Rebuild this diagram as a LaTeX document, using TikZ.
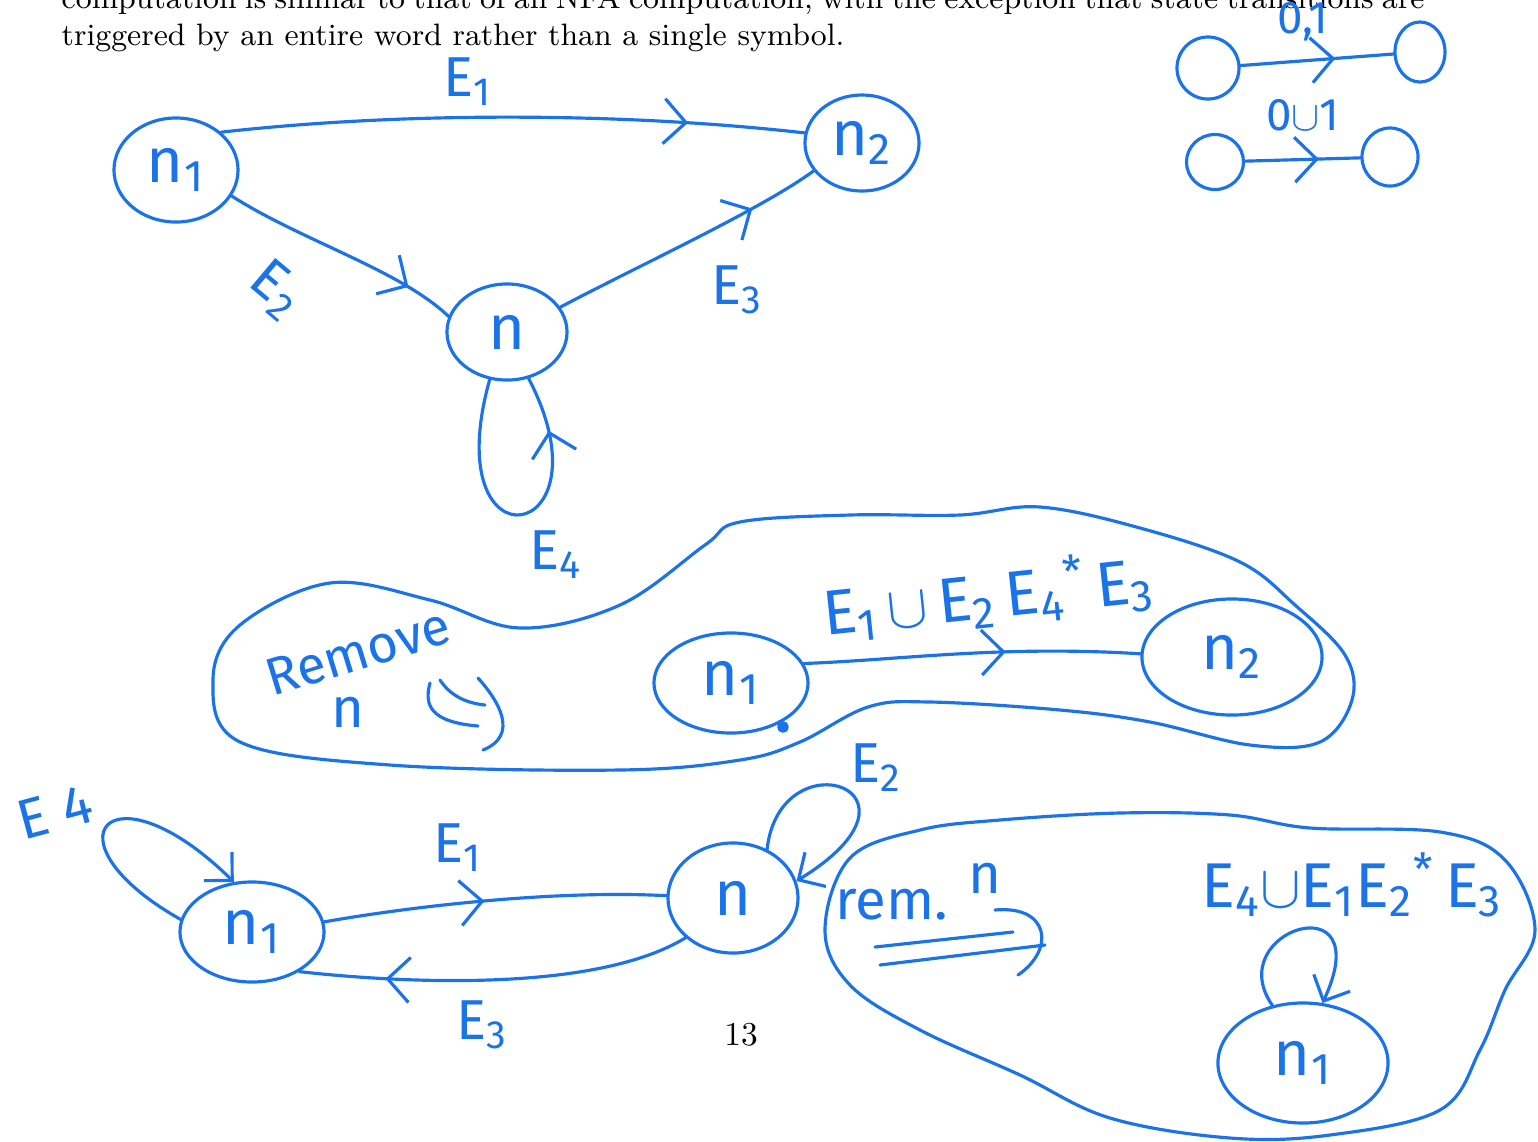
\documentclass[tikz,border=0pt]{standalone}
\usepackage{fontspec}
\newfontfamily\hand{Fira Sans}
\usetikzlibrary{arrows.meta,positioning,shapes.geometric,decorations.markings}
\definecolor{ink}{RGB}{26,115,232}

\begin{document}
\begin{tikzpicture}[
    x=0.01cm, y=-0.01cm,
    ink/.style={draw, color=ink, line width=0.9pt, line cap=round, line join=round},
    state/.style={ellipse, ink, inner sep=0pt, font=\hand\fontsize{18}{20}\selectfont},
    lbl/.style={text=ink, inner sep=1pt, font=\hand\fontsize{16}{18}\selectfont},
    small/.style={text=ink, inner sep=1pt, font=\hand\fontsize{13}{15}\selectfont},
    midarrow/.style={postaction={decorate, decoration={markings,
        mark=at position #1 with {\arrow{Straight Barb[length=2.2mm, width=4.5mm]}}}}},
    tip/.style={-{Straight Barb[length=2mm, width=4mm]}},
    page/.style={inner sep=0pt, font=\fontsize{8.8}{10.5}\selectfont}
]
\clip (0,0) rectangle (1538,1141);

% Page text
\node[page, anchor=base west] (line1) at (61,8) {\makebox[13.62cm][s]{computation is similar to that of an NFA computation, with the exception that state transitions are}};
\node[page, anchor=base west] (line2) at (61,45) {triggered by an entire word rather than a single symbol.};
\node[page, anchor=base, font=\fontsize{9.5}{11}\selectfont] (pnum) at (741,1045) {13};

% Nodes (first graph)
\node[state, minimum width=1.24cm, minimum height=1.04cm] (n1) at (176,170) {n\textsubscript{1}};
\node[state, minimum width=1.14cm, minimum height=0.96cm] (n2) at (862,143) {n\textsubscript{2}};
\node[state, minimum width=1.2cm, minimum height=0.96cm] (n) at (507,332) {n};

% Edges
\draw[ink, midarrow=0.8] (n1.40) .. controls (400,112) and (620,112) .. (n2.170);
\draw[ink, midarrow=0.8] (n1.-25) .. controls (300,240) and (400,270) .. (n.165);
\draw[ink, midarrow=0.75] (n.25) .. controls (640,265) and (760,210) .. (n2.-150);
\draw[ink, midarrow=0.82] (n.-110) .. controls (435,575) and (615,545) .. (n.-65);

\node[lbl] (e1) at (468,82) {E\textsubscript{1}};
\node[lbl, rotate=-40] (e2) at (276,290) {E\textsubscript{2}};
\node[lbl] (e3) at (737,290) {E\textsubscript{3}};
\node[lbl] (e4) at (556,555) {E\textsubscript{4}};

% Small examples, top right
\node[state, minimum width=0.62cm, minimum height=0.62cm] (a) at (1208,68) {};
\node[state, minimum width=0.5cm, minimum height=0.6cm] (b) at (1420,52) {};
\node[state, minimum width=0.57cm, minimum height=0.55cm] (c) at (1215,162) {};
\node[state, minimum width=0.56cm, minimum height=0.58cm] (d) at (1390,157) {};
\draw[ink, midarrow=0.62] (a) -- (b);
\draw[ink, midarrow=0.64] (c) -- (d);
\node[small] (ab) at (1303,22) {0,1};
\node[small] (cd) at (1303,115) {0$\cup$1};

% Remove n: middle blob
\draw[ink] plot[smooth cycle, tension=0.6] coordinates {
    (330,583) (430,600) (520,628) (620,605) (705,545) (740,522) (850,515)
    (960,515) (1040,507) (1140,528) (1240,562) (1295,605) (1345,655)
    (1352,700) (1320,742) (1250,745) (1150,722) (1060,710) (930,702)
    (868,707) (800,742) (740,760) (620,770) (390,765) (240,742) (213,680)
    (240,625)};
\node[lbl, rotate=17, font=\hand\fontsize{15}{17}\selectfont] (rm) at (358,652) {Remove};
\node[lbl] (rmn) at (348,712) {n};
\draw[ink] (430,683) .. controls (424,705) and (430,722) .. (478,726);
\draw[ink] (440,680) .. controls (450,695) and (465,703) .. (485,705);
\draw[ink] (478,678) .. controls (498,700) and (520,735) .. (483,750);

\node[state, minimum width=1.54cm, minimum height=1.0cm] (m1) at (731,683) {n\textsubscript{1}};
\node[state, minimum width=1.8cm, minimum height=1.16cm] (m2) at (1232,657) {n\textsubscript{2}};
\draw[ink, midarrow=0.6] (m1.15) .. controls (900,660) and (1000,645) .. (m2.178);
\node[lbl, rotate=6, font=\hand\fontsize{18}{20}\selectfont] (mlab) at (988,596) {E\textsubscript{1}$\,\cup\,$E\textsubscript{2}\,E\textsubscript{4}\textsuperscript{*}\,E\textsubscript{3}};
\fill[ink] (783,727) circle (1.2pt);

% Bottom graph
\node[state, minimum width=1.44cm, minimum height=1.0cm] (b1) at (252,932) {n\textsubscript{1}};
\node[state, minimum width=1.3cm, minimum height=1.1cm] (bn) at (733,898) {n};
\draw[ink, midarrow=0.47] (b1.8) .. controls (420,905) and (560,890) .. (bn.178);
\draw[ink, midarrow=0.78] (bn.-140) .. controls (600,990) and (420,985) .. (b1.-40);
\draw[ink, tip] (b1.170) .. controls (40,840) and (110,760) .. (b1.110);
\draw[ink, tip] (bn.55) .. controls (780,735) and (945,790) .. (bn.15);
\node[lbl, rotate=15] (be4) at (55,812) {E\;4};
\node[lbl] (be1) at (458,848) {E\textsubscript{1}};
\node[lbl] (be3) at (482,1025) {E\textsubscript{3}};
\node[lbl] (be2) at (876,768) {E\textsubscript{2}};

% rem. n
\node[lbl] (rem) at (892,905) {rem.};
\node[lbl] (remn) at (985,878) {n};
\draw[ink] (875,947) -- (1013,932);
\draw[ink] (880,965) -- (1045,945);
\draw[ink] (995,910) .. controls (1050,905) and (1055,950) .. (1018,975);

% Result blob
\draw[ink] plot[smooth cycle, tension=0.6] coordinates {
    (850,858) (920,830) (1000,820) (1120,813) (1230,815) (1310,828)
    (1440,832) (1505,860) (1535,930) (1505,990) (1480,1050) (1440,1110)
    (1330,1135) (1230,1138) (1110,1118) (1020,1075) (920,1030) (850,985)
    (825,930)};
\node[state, minimum width=1.7cm, minimum height=1.2cm] (c1) at (1303,1063) {n\textsubscript{1}};
\draw[ink, tip] (c1.118) .. controls (1220,930) and (1380,880) .. (c1.72);
\node[lbl, font=\hand\fontsize{18}{20}\selectfont] (clab) at (1352,885) {E\textsubscript{4}$\cup$E\textsubscript{1}E\textsubscript{2}\textsuperscript{*}\,E\textsubscript{3}};

\end{tikzpicture}
\end{document}
